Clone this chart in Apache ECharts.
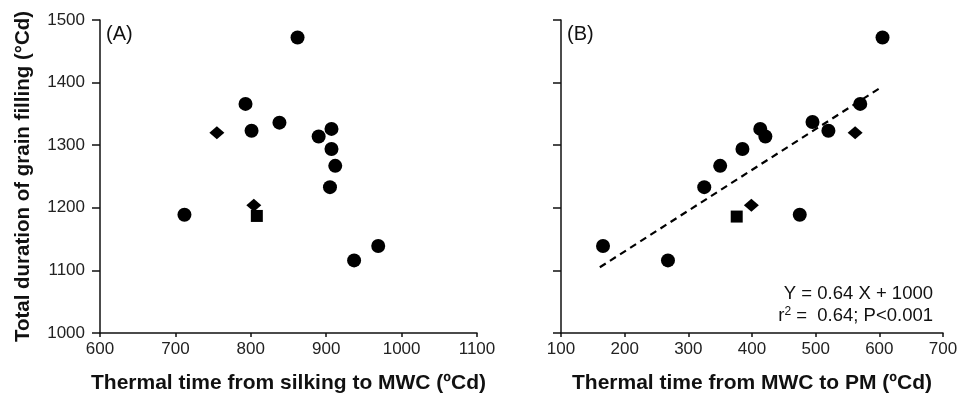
<!DOCTYPE html>
<html>
<head>
<meta charset="utf-8">
<script src="https://cdn.jsdelivr.net/npm/echarts@6/dist/echarts.min.js"></script>
<style>
  html, body { margin: 0; padding: 0; background: #fff; }
  #chart { width: 961px; height: 402px; }
</style>
</head>
<body>
<div id="chart"></div>
<script>
// panel A: thermal time silking -> MWC vs total duration
var circlesA = [[862, 1472], [793, 1366], [838, 1336], [801, 1323], [890, 1314], [907, 1326],
  [907, 1294], [912, 1267], [905, 1233], [712, 1189], [937, 1116], [969, 1139]];
var diamondsA = [[755, 1320], [804, 1204]];
var squaresA = [[808, 1187]];

// panel B: thermal time MWC -> PM vs total duration
var circlesB = [[605, 1472], [570, 1366], [495, 1337], [520, 1323], [413, 1326], [421, 1314],
  [385, 1294], [350, 1267], [325, 1233], [475, 1189], [166, 1139], [268, 1116]];
var diamondsB = [[562, 1320], [399, 1204]];
var squaresB = [[376, 1186]];

// fitted line Y = 0.64 X + 1000, ends as drawn
var fitB = [[161, 1105], [602, 1392]];

var font = 'Liberation Sans, Arial, sans-serif';
var ink = '#111';

var chart = echarts.init(document.getElementById('chart'));

function plain(v) { return String(v); }

function xAxisOf(idx, min, max, name) {
  return {
    gridIndex: idx, type: 'value', min: min, max: max, interval: 100,
    name: name, nameLocation: 'middle', nameGap: 40,
    nameTextStyle: { fontFamily: font, fontSize: 21, fontWeight: 'bold', color: ink },
    axisLine: { onZero: false, lineStyle: { color: ink, width: 1.5 } },
    axisTick: { length: 4, lineStyle: { color: ink, width: 1.5 } },
    axisLabel: { fontFamily: font, fontSize: 17, color: '#222', margin: 8, formatter: plain },
    splitLine: { show: false }
  };
}

function yAxisOf(idx, showLabels, name) {
  return {
    gridIndex: idx, type: 'value', min: 1000, max: 1500, interval: 100,
    name: name, nameLocation: 'middle', nameGap: 66, nameRotate: 90,
    nameTextStyle: { fontFamily: font, fontSize: 20.5, fontWeight: 'bold', color: ink },
    axisLine: { onZero: false, lineStyle: { color: ink, width: 1.5 } },
    axisTick: { length: 8, lineStyle: { color: ink, width: 1.5 } },
    axisLabel: { show: showLabels, fontFamily: font, fontSize: 17, color: '#222', margin: 15, formatter: plain },
    splitLine: { show: false }
  };
}

function marks(idx, data, symbol, size) {
  return {
    type: 'scatter', xAxisIndex: idx, yAxisIndex: idx, data: data,
    symbol: symbol, symbolSize: size, itemStyle: { color: '#000', opacity: 1 }, silent: true
  };
}

var option = {
  animation: false,
  grid: [
    { left: 100, top: 20, width: 377, height: 313 },
    { left: 561, top: 20, width: 382, height: 313 }
  ],
  xAxis: [
    xAxisOf(0, 600, 1100, 'Thermal time from silking to MWC (ºCd)'),
    xAxisOf(1, 100, 700, 'Thermal time from MWC to PM (ºCd)')
  ],
  yAxis: [
    yAxisOf(0, true, 'Total duration of grain filling (°Cd)'),
    yAxisOf(1, false, '')
  ],
  graphic: [
    { type: 'text', left: 106, top: 24, style: { text: '(A)', font: '20px ' + font, fill: ink } },
    { type: 'text', left: 567, top: 24, style: { text: '(B)', font: '20px ' + font, fill: ink } },
    { type: 'text', right: 28, top: 284, style: { text: 'Y = 0.64 X + 1000', font: '18.5px ' + font, fill: ink } },
    { type: 'text', right: 28, top: 306, style: {
        text: 'r{sup|2} =  0.64; P<0.001', font: '18.5px ' + font, fill: ink,
        rich: { sup: { fontSize: 12, verticalAlign: 'top', padding: [0, 0, 7, 0], fontFamily: font } }
      } }
  ],
  series: [
    marks(0, circlesA, 'circle', 14),
    marks(0, diamondsA, 'diamond', [15, 13]),
    marks(0, squaresA, 'rect', 12),
    marks(1, circlesB, 'circle', 14),
    marks(1, diamondsB, 'diamond', [15, 13]),
    marks(1, squaresB, 'rect', 12),
    {
      type: 'line', xAxisIndex: 1, yAxisIndex: 1, data: fitB, symbol: 'none', silent: true,
      lineStyle: { color: '#000', width: 2.2, type: [7, 5] }, z: 1
    }
  ]
};

chart.setOption(option);
</script>
</body>
</html>
